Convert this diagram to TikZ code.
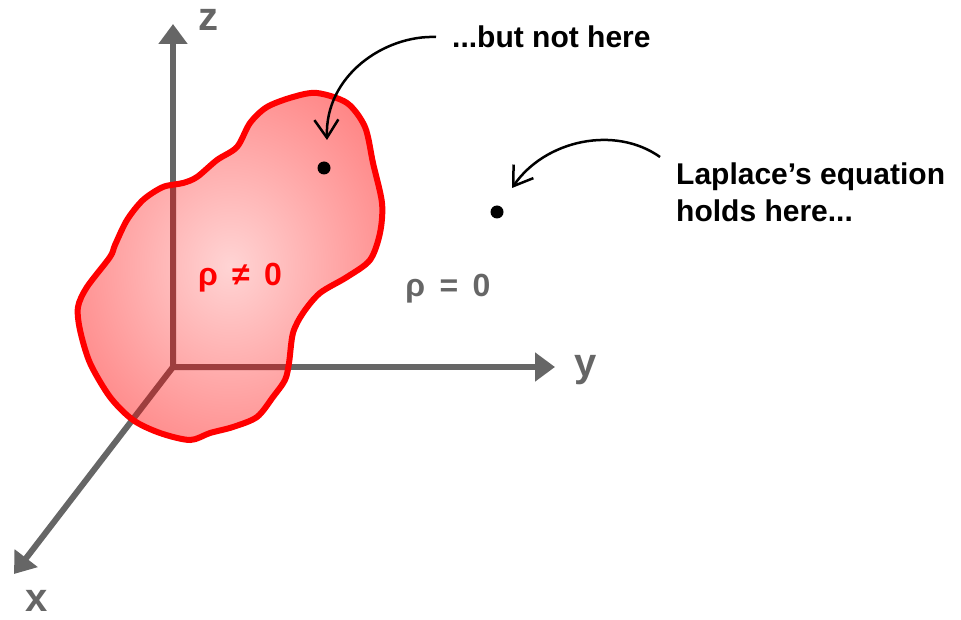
\documentclass[tikz,border=0pt]{standalone}
\usepackage{fontspec}
\setmainfont{Liberation Sans}
\usetikzlibrary{arrows.meta}
\definecolor{axisgray}{RGB}{102,102,102}
\definecolor{axisdark}{RGB}{158,62,62}
\definecolor{blobin}{RGB}{255,212,212}
\definecolor{blobout}{RGB}{255,98,98}
\pgfdeclareradialshading{blobshade}{\pgfpoint{0bp}{0bp}}{color(0bp)=(blobin); color(44bp)=(blobout); color(50bp)=(blobout)}

\begin{document}
\begin{tikzpicture}[x=1pt, y=-1pt,
axis/.style={line width=6pt, draw=axisgray, -{Triangle[length=20pt,width=28pt]}},
axlab/.style={text=axisgray, font=\fontsize{40}{40}\selectfont\bfseries, inner sep=0pt},
note/.style={font=\fontsize{30}{37}\selectfont\bfseries, inner sep=0pt, align=left},
rholab/.style={font=\fontsize{32}{32}\selectfont\bfseries, inner sep=0pt},
pointer/.style={line width=2.5pt, -{Straight Barb[length=18pt,width=24pt]}},
spot/.style={circle, fill=black, minimum size=13pt, inner sep=0pt}
]
\useasboundingbox (0,0) rectangle (961,620);

% axes
\coordinate (O) at (173,367);
\coordinate (xtip) at (14,574);
\coordinate (ytip) at (555,367);
\coordinate (ztip) at (173,24);
\draw[axis] (O) -- (xtip);
\draw[axis] (O) -- (ytip);
\draw[axis] (O) -- (ztip);
\node[axlab] (xlab) at (37,601) {x};
\node[axlab] (ylab) at (586,370) {y};
\node[axlab] (zlab) at (208,20) {z};

% charged region
\shade[shading=blobshade, save path=\blobp] plot[smooth cycle] coordinates {
(317,93) (347,103) (365,127) (373,163) (382,203) (380,233) (370,260)
(347,277) (320,293) (303,313) (293,333) (289,363) (285,380) (273,397)
(257,417) (233,427) (210,433) (190,440) (160,433) (133,420) (110,397)
(90,363) (80,330) (78,307) (87,287) (110,257) (115,245) (127,220)
(143,200) (163,187) (183,183) (197,177) (217,160) (237,147) (250,123)
(267,107) (293,97)};
\begin{scope}
\clip[use path=\blobp];
\draw[line width=6pt, axisdark] (xtip) -- (O) -- (ytip) (O) -- (ztip);
\end{scope}
\draw[red, line width=6pt, use path=\blobp];

\node[rholab, text=red] (rhoin) at (240,278) {ρ\hspace{0.45em}≠\hspace{0.45em}0};
\node[rholab, text=axisgray] (rhoout) at (448,289) {ρ\hspace{0.45em}=\hspace{0.45em}0};

% points and notes
\node[spot] (inner) at (324,168) {};
\node[spot] (outer) at (497,212) {};
\node[note, anchor=west] (butnot) at (452,37) {...but not here};
\node[note, anchor=west] (laplace) at (676,192) {Laplace’s equation\\holds here...};

\draw[pointer] ([xshift=-16pt]butnot.west) .. controls (385,35) and (325,75) .. ([shift={(3,-28)}]inner.center);
\draw[pointer] ([shift={(-16,-35)}]laplace.west) .. controls (615,125) and (545,140) .. ([shift={(15,-24)}]outer.center);
\end{tikzpicture}
\end{document}
